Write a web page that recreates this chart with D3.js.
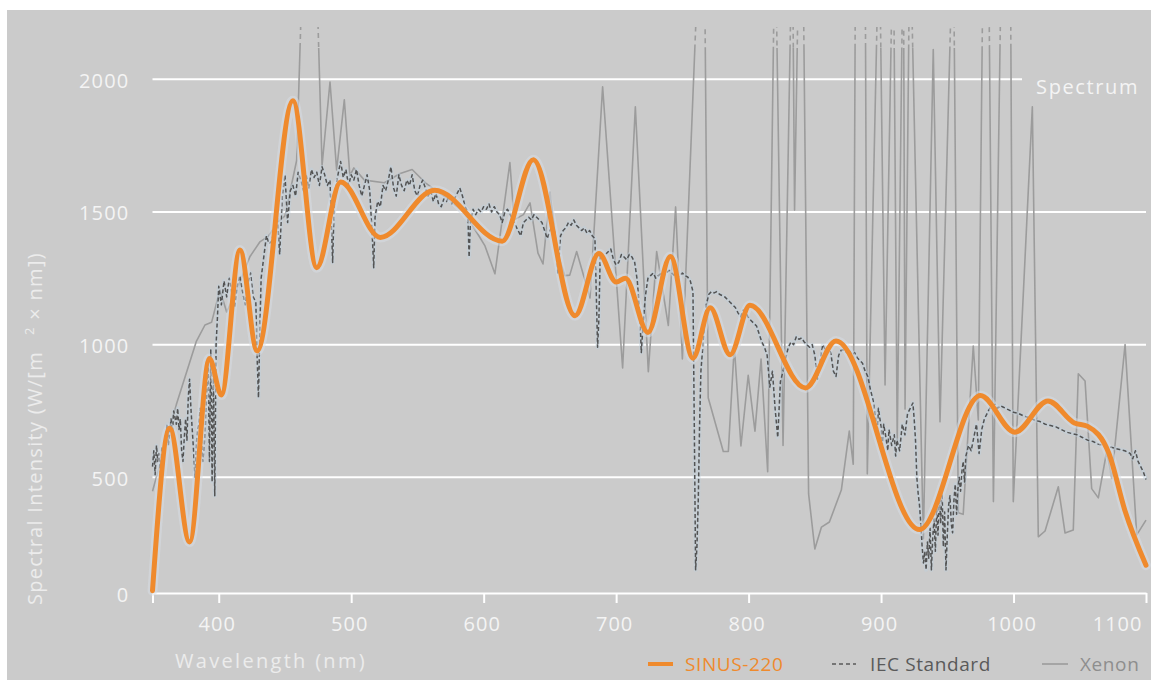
<!DOCTYPE html>
<html>
<head>
<meta charset="utf-8">
<script src="https://cdn.jsdelivr.net/npm/d3@7"></script>
<style>
  html, body { margin: 0; padding: 0; background: #ffffff; }
  svg { display: block; font-family: "Open Sans", "Noto Sans", sans-serif; }
</style>
</head>
<body>
<svg id="chart" width="1151" height="680"></svg>
<script>
// ---- data -------------------------------------------------------------
// Wavelength ticks (nm) and intensity ticks (W/(m² × nm))
const xTickValues = [350, 400, 500, 600, 700, 800, 900, 1000, 1100];
const yTickValues = [0, 500, 1000, 1500, 2000];

// SINUS-220 lamp spectrum, key points of the smooth curve [nm, value]
const sinus220 = [
  [350, 10], [363, 685], [378, 220], [393, 948], [402, 810], [416, 1357],
  [429, 976], [456, 1919], [474, 1290], [492, 1613], [522, 1404], [563, 1582],
  [614, 1390], [637.5, 1697], [669, 1109], [687, 1343], [700, 1236], [707, 1250],
  [724, 1046], [741, 1332], [758, 949], [771, 1139], [786, 962], [801, 1148],
  [843, 837], [866, 1014], [929, 274], [975, 808], [1001, 670], [1026, 788],
  [1046, 705], [1056, 692], [1072, 590], [1084, 358], [1100, 120]
];

// IEC standard reference spectrum [nm, value]
const iecStandard = [
  [350,540],[351,600],[352,510],[353,620],[354,560],[355,590],[356,500],[357,610],[358,580],
  [360,640],[361,700],[362,620],[364,720],[365,660],[366,750],[368,700],[369,760],[370,680],
  [371,720],[372,600],[373,560],[374,650],[375,720],[376,640],[377,800],[378,870],[379,760],
  [380,680],[381,600],[382,500],[383,620],[384,680],[385,700],[386,760],[387,640],[388,560],
  [389,620],[390,700],[391,820],[392,940],[393,560],[394,980],[395,480],[396,900],[397,420],
  [398,1000],[399,1100],[400,1220],[402,1150],[404,1240],[406,1180],[408,1250],[410,1190],
  [412,1140],[414,1220],[416,1260],[418,1200],[420,1150],[422,1230],[424,1270],[426,1180],
  [428,1160],[429,950],[430,800],[431,1050],[432,1250],[434,1330],[436,1410],[438,1380],
  [440,1390],[442,1440],[444,1500],[446,1340],[448,1560],[450,1640],[452,1460],[454,1580],
  [456,1600],[458,1560],[460,1650],[462,1620],[464,1580],[466,1640],[468,1590],[470,1660],
  [472,1630],[474,1650],[476,1600],[478,1670],[480,1640],[482,1600],[484,1620],[485,1460],
  [486,1310],[487,1500],[488,1580],[490,1640],[492,1690],[494,1630],[496,1660],[498,1600],
  [500,1640],[502,1620],[504,1660],[506,1600],[508,1560],[510,1600],[512,1640],[514,1580],
  [516,1400],[517,1290],[518,1480],[520,1540],[522,1520],[524,1600],[526,1580],[528,1620],
  [530,1670],[532,1590],[534,1560],[536,1640],[538,1600],[540,1580],[542,1620],[544,1600],
  [546,1640],[548,1580],[550,1560],[552,1600],[554,1620],[556,1590],[558,1560],[560,1580],
  [562,1540],[564,1570],[566,1530],[568,1520],[570,1550],[572,1540],[574,1560],[576,1530],
  [578,1550],[580,1570],[582,1590],[584,1560],[586,1520],[588,1500],[589,1330],[590,1460],
  [592,1510],[594,1490],[596,1510],[598,1500],[600,1520],[602,1510],[604,1530],[606,1500],
  [608,1520],[610,1500],[612,1490],[614,1460],[616,1500],[618,1510],[620,1490],[622,1470],
  [624,1450],[626,1430],[628,1410],[630,1460],[632,1470],[634,1480],[636,1470],[638,1490],
  [640,1480],[642,1470],[644,1460],[646,1430],[648,1400],[650,1430],[652,1450],[654,1420],
  [656,1270],[657,1330],[658,1410],[660,1430],[662,1440],[664,1460],[666,1450],[668,1470],
  [670,1450],[672,1440],[674,1430],[676,1440],[678,1420],[680,1430],[682,1410],[684,1400],
  [686,990],[687,1100],[688,1340],[690,1330],[692,1340],[694,1350],[696,1360],[698,1320],
  [700,1300],[702,1310],[704,1340],[706,1330],[708,1320],[710,1340],[712,1330],[714,1310],
  [716,1240],[718,1100],[719,970],[720,1050],[722,1180],[724,1250],[726,1260],[728,1270],
  [730,1250],[732,1260],[734,1270],[736,1260],[738,1270],[740,1280],[742,1270],[744,1260],
  [746,1250],[748,1260],[750,1270],[752,1260],[754,1255],[756,1240],[758,1200],[759,700],
  [760,100],[761,200],[762,400],[763,700],[764,900],[766,1030],[768,1150],[770,1190],
  [772,1200],[774,1195],[776,1200],[778,1190],[780,1185],[782,1180],[784,1170],[786,1160],
  [788,1150],[790,1140],[792,1120],[794,1105],[796,1130],[798,1120],[800,1100],[802,1090],
  [804,1080],[806,1070],[808,1040],[810,1010],[812,990],[814,960],[816,840],[818,900],
  [820,760],[822,650],[824,860],[826,900],[828,950],[830,990],[832,1010],[834,1000],
  [836,1030],[838,1020],[840,1025],[842,1010],[844,1000],[846,990],[848,1000],[850,960],
  [852,870],[854,940],[856,1000],[858,980],[860,990],[862,970],[864,900],[866,880],
  [868,960],[870,980],[872,980],[874,970],[876,980],[878,960],[880,970],[882,950],
  [884,940],[886,930],[888,900],[890,880],[892,830],[894,790],[896,720],[897,650],
  [898,760],[900,690],[901,620],[902,700],[904,640],[905,600],[906,680],[908,620],
  [910,660],[911,580],[912,640],[914,600],[916,700],[918,660],[920,740],[922,760],
  [924,780],[925,720],[926,640],[927,500],[928,430],[929,380],[930,300],[931,200],
  [932,130],[933,180],[934,100],[935,220],[936,150],[937,280],[938,100],[939,240],
  [940,320],[941,180],[942,380],[943,250],[944,440],[945,300],[946,460],[947,200],
  [948,350],[949,100],[950,250],[951,380],[952,420],[953,300],[954,260],[955,400],
  [956,470],[957,340],[958,450],[959,500],[960,440],[961,520],[962,560],[963,480],
  [964,580],[966,620],[968,600],[970,650],[972,700],[974,590],[976,680],[978,720],
  [980,740],[982,760],[984,770],[986,775],[988,760],[990,770],[992,765],[994,760],
  [996,755],[998,750],[1000,745],[1004,740],[1008,730],[1012,725],[1016,715],[1020,710],
  [1024,700],[1028,695],[1032,690],[1036,680],[1040,670],[1044,665],[1048,660],[1052,650],
  [1056,640],[1060,635],[1064,625],[1068,620],[1072,615],[1076,610],[1080,605],[1084,600],
  [1088,590],[1090,570],[1092,600],[1094,560],[1096,540],[1098,520],[1100,490]
];

// Xenon lamp spectrum [nm, value]; emission lines run past the top of the plot
const xenon = [
  [350,440],[368,774],[383,1011],[389.6,1074],[394.6,1084],[400.9,1206],[406,1123],
  [413.5,1206],[423.6,1332],[431,1387],[437.4,1408],[445,1464],[450,1485],[458.8,1694],
  [464.3,2600],[472.7,2600],[478,1675],[484,1990],[489,1658],[494.8,1923],[499,1637],
  [502,1666],[510,1620],[525,1610],[537,1645],[546,1660],[556,1610],[570,1560],[585,1500],
  [596,1413],[601,1372],[608.5,1267],[619.8,1686],[623,1470],[630,1490],[635,1534],
  [641,1345],[644.8,1304],[650,1575],[656,1340],[661.4,1260],[665,1262],[670.2,1351],
  [680.3,1176],[689.8,1972],[704.9,912],[714.5,1896],[724.3,898],[730.6,1351],[739.4,1072],
  [744.9,1519],[750,946],[763.3,2600],[766.5,2600],[769.5,800],[780.9,597],[784.7,597],
  [789.2,995],[794.2,618],[799.7,884],[804.8,674],[809.4,946],[814.4,521],[820,2600],
  [826,620],[833,2600],[834.7,1507],[838.3,2600],[840.8,2600],[845.3,428],[850,190],
  [855,285],[861,307],[870,445],[876,674],[879,549],[880.8,2600],[887.9,2600],[889.6,513],
  [898.6,2600],[903,848],[909.2,2600],[912.2,633],[916.8,2600],[918.1,757],[921.8,2600],
  [931.9,235],[939.4,2112],[944.5,709],[954.5,2600],[958.3,347],[962,340],[969.6,995],
  [973.4,716],[977.3,2600],[981,2600],[984.8,395],[991.2,2600],[997.5,2600],[999.8,395],
  [1014.2,1896],[1018.7,243],[1023.8,268],[1033.8,459],[1038.9,259],[1045.1,272],
  [1048.9,890],[1054,863],[1059,451],[1064,411],[1070.3,597],[1074.1,495],[1084.2,1000],
  [1093,251],[1100,315]
];

// Legend entries
const seriesNames = ["SINUS-220", "IEC Standard", "Xenon"];

// ---- layout -----------------------------------------------------------
const svg = d3.select("#chart");
const W = 1151, H = 680;
const colors = { sinus: "#ef8a2d", iec: "#535353", xenon: "#9c9c9c", bg: "#cbcbcb", text: "#f4f4f4" };

svg.append("rect").attr("x", 7).attr("y", 10).attr("width", W - 7).attr("height", H - 10)
  .attr("fill", colors.bg);

const x = d3.scaleLinear().domain([350, 1100]).range([152.5, 1146]);
// the intensity axis is compressed below 500
const y = d3.scaleLinear().domain([0, 500, 2000]).range([593, 477.3, 79.3]);

// horizontal grid lines
svg.append("g").selectAll("line")
  .data(yTickValues.filter(v => v > 0))
  .join("line")
  .attr("x1", x(350))
  .attr("x2", d => d === 2000 ? 1022 : 1146)
  .attr("y1", d => y(d)).attr("y2", d => y(d))
  .attr("stroke", "#ffffff").attr("stroke-width", 2);

// x axis
const lastTick = xTickValues[xTickValues.length - 1];
const xAxis = svg.append("g").attr("transform", `translate(0,${y(0)})`)
  .call(d3.axisBottom(x).tickValues(xTickValues).tickSize(10).tickSizeOuter(0)
    .tickPadding(14).tickFormat(d => d % 100 === 0 ? d : ""));
xAxis.select(".domain").attr("stroke", "#ffffff").attr("stroke-width", 2);
xAxis.selectAll(".tick line").attr("stroke", "#ffffff").attr("stroke-width", 2);
xAxis.selectAll(".tick text").attr("fill", colors.text).attr("font-size", 20)
  .attr("letter-spacing", 1).attr("font-family", "'Open Sans', sans-serif")
  .attr("dx", -2);
// keep the last label inside the frame
xAxis.selectAll(".tick").filter(d => d === lastTick).select("text")
  .attr("text-anchor", "end").attr("dx", -4);

// y axis labels
const yAxis = svg.append("g").attr("transform", `translate(${x(350)},0)`)
  .call(d3.axisLeft(y).tickValues(yTickValues).tickSize(0).tickPadding(23)
    .tickFormat(d3.format("d")));
yAxis.select(".domain").remove();
yAxis.selectAll(".tick text").attr("fill", colors.text).attr("font-size", 20)
  .attr("letter-spacing", 1.2).attr("dy", "0.4em").attr("font-family", "'Open Sans', sans-serif");

// axis titles
svg.append("text").attr("x", 271).attr("y", 668).attr("text-anchor", "middle")
  .attr("fill", "#ececec").attr("font-size", 20).attr("letter-spacing", 2.3)
  .text("Wavelength (nm)");

const yTitle = svg.append("text")
  .attr("transform", "translate(42,605) rotate(-90)")
  .attr("fill", "#ececec").attr("font-size", 20).attr("letter-spacing", 1.3);
yTitle.append("tspan").text("Spectral Intensity (W/[m");
yTitle.append("tspan").attr("dx", 16).attr("dy", -8).attr("font-size", 13).text("2");
yTitle.append("tspan").attr("dy", 8).text(" × nm])");

svg.append("text").attr("x", 1139).attr("y", 94).attr("text-anchor", "end")
  .attr("fill", colors.text).attr("font-size", 20).attr("letter-spacing", 1.6)
  .text("Spectrum");

// ---- series -----------------------------------------------------------
const defs = svg.append("defs");
defs.append("clipPath").attr("id", "clip-main").append("rect")
  .attr("x", 150).attr("y", 48).attr("width", 1000).attr("height", 560);
defs.append("clipPath").attr("id", "clip-top").append("rect")
  .attr("x", 150).attr("y", 27).attr("width", 1000).attr("height", 21);

const straight = d3.line().x(d => x(d[0])).y(d => y(d[1]));
const smooth = d3.line().x(d => x(d[0])).y(d => y(d[1])).curve(d3.curveMonotoneX);

// xenon: solid inside the plot, dashed where lines cross the top margin
svg.append("path").datum(xenon).attr("d", straight)
  .attr("clip-path", "url(#clip-main)")
  .attr("fill", "none").attr("stroke", colors.xenon).attr("stroke-width", 1.6)
  .attr("stroke-linejoin", "round");
svg.append("path").datum(xenon).attr("d", straight)
  .attr("clip-path", "url(#clip-top)")
  .attr("fill", "none").attr("stroke", colors.xenon).attr("stroke-width", 1.6)
  .attr("stroke-dasharray", "5,4");

// IEC standard: soft halo then dashed line
svg.append("path").datum(iecStandard).attr("d", straight)
  .attr("fill", "none").attr("stroke", "rgba(190,208,222,0.45)").attr("stroke-width", 4)
  .attr("stroke-linejoin", "round");
svg.append("path").datum(iecStandard).attr("d", straight)
  .attr("fill", "none").attr("stroke", colors.iec).attr("stroke-width", 1.5)
  .attr("stroke-dasharray", "4,2.5").attr("stroke-linejoin", "round");

// SINUS-220: halo then thick curve
svg.append("path").datum(sinus220).attr("d", smooth)
  .attr("fill", "none").attr("stroke", "rgba(215,222,230,0.5)").attr("stroke-width", 10)
  .attr("stroke-linecap", "round");
svg.append("path").datum(sinus220).attr("d", smooth)
  .attr("fill", "none").attr("stroke", colors.sinus).attr("stroke-width", 5)
  .attr("stroke-linecap", "round").attr("stroke-linejoin", "round");

// ---- legend -----------------------------------------------------------
const legendItems = [
  { name: seriesNames[0], x0: 648, x1: 673, tx: 685, stroke: colors.sinus, w: 4, dash: null, text: colors.sinus },
  { name: seriesNames[1], x0: 832, x1: 856, tx: 870, stroke: "#5a5a5a", w: 1.5, dash: "4,3", text: "#5a5a5a" },
  { name: seriesNames[2], x0: 1042, x1: 1068, tx: 1080, stroke: "#999999", w: 1.5, dash: null, text: "#8e8e8e" }
];
const legend = svg.append("g");
legendItems.forEach(it => {
  legend.append("line").attr("x1", it.x0).attr("x2", it.x1).attr("y1", 664).attr("y2", 664)
    .attr("stroke", it.stroke).attr("stroke-width", it.w)
    .attr("stroke-dasharray", it.dash);
  legend.append("text").attr("x", it.tx).attr("y", 671).attr("fill", it.text)
    .attr("font-size", 19).attr("letter-spacing", 0.6).text(it.name);
});
</script>
</body>
</html>
